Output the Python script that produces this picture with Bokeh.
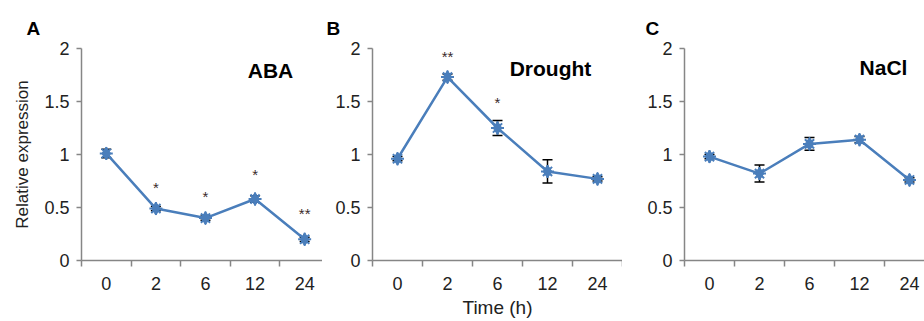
from bokeh.plotting import figure
from bokeh.layouts import row
from bokeh.models import (ColumnDataSource, Whisker, TeeHead, FixedTicker, Label,
                          CustomJSTickFormatter, Range1d)
from bokeh.core.properties import value
from bokeh.embed import file_html
from bokeh.resources import INLINE

times = ["0", "2", "6", "12", "24"]

aba = [1.01, 0.49, 0.40, 0.58, 0.20]
aba_err = [0.04, 0.02, 0.02, 0.03, 0.02]
aba_sig = ["", "*", "*", "*", "**"]
aba_sig_y = [None, 0.69, 0.60, 0.81, 0.44]

drought = [0.96, 1.73, 1.25, 0.84, 0.77]
drought_err = [0.02, 0.03, 0.07, 0.11, 0.02]
drought_sig = ["", "**", "*", "", ""]
drought_sig_y = [None, 1.92, 1.49, None, None]

nacl = [0.98, 0.82, 1.10, 1.14, 0.76]
nacl_err = [0.02, 0.08, 0.06, 0.03, 0.02]
nacl_sig = ["", "", "", "", ""]
nacl_sig_y = [None, None, None, None, None]

y_ticks = [0, 0.5, 1, 1.5, 2]

BLUE = "#4a7ebb"
AXIS = "#868686"
FONT = "Liberation Sans"
FONT_V = value(FONT)
TOP = 48
H = 321


def panel(letter, title, vals, errs, sig, sig_y, width, left, bottom, xmax,
          title_pos, letter_off, ylabel=None, xlabel=None):
    idx = list(range(len(times)))
    p = figure(width=width, height=H, output_backend="svg", toolbar_location=None,
               x_range=Range1d(-0.5, xmax), y_range=Range1d(0, 2),
               min_border_left=left, min_border_right=0, min_border_top=TOP,
               min_border_bottom=bottom)
    p.outline_line_color = None
    p.grid.visible = False
    p.background_fill_color = "white"
    p.border_fill_color = "white"

    p.title.text = letter
    p.title.align = "left"
    p.title.offset = letter_off
    p.title.standoff = 20
    p.title.text_font = FONT
    p.title.text_font_style = "bold"
    p.title.text_font_size = "19px"
    p.title.text_color = "black"

    src = ColumnDataSource(dict(x=idx, y=vals,
                                lo=[v - e for v, e in zip(vals, errs)],
                                hi=[v + e for v, e in zip(vals, errs)]))
    w = Whisker(source=src, base="x", upper="hi", lower="lo",
                line_color="black", line_width=1.5,
                upper_head=TeeHead(size=10, line_color="black", line_width=1.5),
                lower_head=TeeHead(size=10, line_color="black", line_width=1.5))
    p.add_layout(w)
    p.line("x", "y", source=src, line_color=BLUE, line_width=2.5)
    p.scatter("x", "y", source=src, marker="diamond", size=13, fill_color=BLUE,
              line_color=BLUE)
    p.scatter("x", "y", source=src, marker="asterisk", size=13, line_color=BLUE,
              line_width=2)

    sx = [i for i, s in zip(idx, sig) if s]
    sy = [yy for s, yy in zip(sig, sig_y) if s]
    st = [s for s in sig if s]
    if st:
        p.text(x=sx, y=sy, text=st, text_align="center", text_baseline="middle",
               text_font_size="15px", text_color="#3a2a2a", text_font=FONT_V)

    xa = p.xaxis[0]
    xa.ticker = FixedTicker(ticks=idx, minor_ticks=[i - 0.5 for i in idx] + [idx[-1] + 0.5])
    xa.major_label_overrides = {i: t for i, t in zip(idx, times)}
    xa.major_tick_line_color = None
    xa.major_tick_out = 6
    xa.major_tick_in = 0
    xa.minor_tick_out = 6
    xa.minor_tick_in = 0
    xa.minor_tick_line_color = AXIS
    xa.minor_tick_line_width = 1.5
    xa.axis_line_color = AXIS
    xa.axis_line_width = 1.5
    xa.major_label_text_font = FONT
    xa.major_label_text_font_size = "18px"
    xa.major_label_text_color = "#222222"
    xa.major_label_standoff = 10
    if xlabel:
        xa.axis_label = xlabel
        xa.axis_label_text_font = FONT
        xa.axis_label_text_font_style = "normal"
        xa.axis_label_text_font_size = "19px"
        xa.axis_label_text_color = "#222222"
        xa.axis_label_standoff = 4

    ya = p.yaxis[0]
    ya.ticker = FixedTicker(ticks=y_ticks, minor_ticks=[])
    ya.formatter = CustomJSTickFormatter(code="return tick.toString();")
    ya.major_tick_out = 5
    ya.major_tick_in = 0
    ya.major_tick_line_color = AXIS
    ya.major_tick_line_width = 1.5
    ya.axis_line_color = AXIS
    ya.axis_line_width = 1.5
    ya.major_label_text_font = FONT
    ya.major_label_text_font_size = "18px"
    ya.major_label_text_color = "#222222"
    ya.major_label_standoff = 7
    if ylabel:
        ya.axis_label = ylabel
        ya.axis_label_text_font = FONT
        ya.axis_label_text_font_style = "normal"
        ya.axis_label_text_font_size = "17px"
        ya.axis_label_text_color = "#222222"
        ya.axis_label_standoff = 9

    fh = H - TOP - bottom
    p.add_layout(Label(x=title_pos, y=fh - 22, x_units="screen", y_units="screen",
                       text=title, text_font=FONT, text_font_style="bold",
                       text_font_size="21px", text_align="center",
                       text_baseline="middle", text_color="black"))
    return p


pa = panel("A", "ABA", aba, aba_err, aba_sig, aba_sig_y, 322, 81, 61, 4.36,
           189, -55, ylabel="Relative expression")
pb = panel("B", "Drought", drought, drought_err, drought_sig, drought_sig_y, 300, 50, 59, 4.5,
           178, -46, xlabel="Time (h)")
pc = panel("C", "NaCl", nacl, nacl_err, nacl_sig, nacl_sig_y, 302, 62, 58, 4.3,
           199, -39)

layout = row(pa, pb, pc, spacing=0)
open("out.html", "w").write(file_html(layout, INLINE))
